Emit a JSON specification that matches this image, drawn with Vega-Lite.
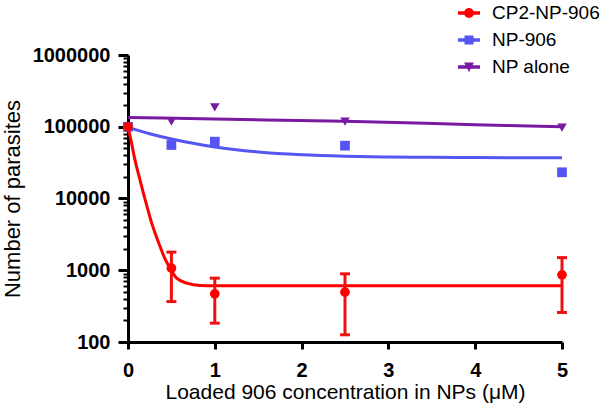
{
  "$schema": "https://vega.github.io/schema/vega-lite/v6.json",
  "width": 434,
  "height": 287,
  "autosize": "none",
  "padding": {"left": 128, "top": 55, "right": 40, "bottom": 72},
  "background": "white",
  "config": {"view": {"stroke": null}, "font": "Liberation Sans"},
  "datasets": {
    "obs": [
      {"series": "NP alone", "x": 0, "y": 100000},
      {"series": "NP alone", "x": 0.5, "y": 117500},
      {"series": "NP alone", "x": 1, "y": 186600},
      {"series": "NP alone", "x": 2.5, "y": 117500},
      {"series": "NP alone", "x": 5, "y": 97000},
      {"series": "NP-906", "x": 0, "y": 100000},
      {"series": "NP-906", "x": 0.5, "y": 55700},
      {"series": "NP-906", "x": 1, "y": 62000},
      {"series": "NP-906", "x": 2.5, "y": 54500},
      {"series": "NP-906", "x": 5, "y": 23200},
      {"series": "CP2-NP-906", "x": 0, "y": 100000},
      {"series": "CP2-NP-906", "x": 0.5, "y": 1070, "lo": 366, "hi": 1790},
      {"series": "CP2-NP-906", "x": 1, "y": 469, "lo": 183, "hi": 776},
      {"series": "CP2-NP-906", "x": 2.5, "y": 495, "lo": 126, "hi": 891},
      {"series": "CP2-NP-906", "x": 5, "y": 863, "lo": 258, "hi": 1500}
    ],
    "fit": [
      {"series": "NP alone", "x": 0, "y": 135000},
      {"series": "NP alone", "x": 1, "y": 128000},
      {"series": "NP alone", "x": 2.5, "y": 119000},
      {"series": "NP alone", "x": 4, "y": 107000},
      {"series": "NP alone", "x": 5, "y": 100000},
      {"series": "NP-906", "x": 0, "y": 98000},
      {"series": "NP-906", "x": 0.25, "y": 80000},
      {"series": "NP-906", "x": 0.5, "y": 67500},
      {"series": "NP-906", "x": 0.75, "y": 58700},
      {"series": "NP-906", "x": 1, "y": 52300},
      {"series": "NP-906", "x": 1.5, "y": 44600},
      {"series": "NP-906", "x": 2, "y": 40800},
      {"series": "NP-906", "x": 2.5, "y": 38900},
      {"series": "NP-906", "x": 3, "y": 37900},
      {"series": "NP-906", "x": 3.5, "y": 37500},
      {"series": "NP-906", "x": 4, "y": 37200},
      {"series": "NP-906", "x": 5, "y": 37000},
      {"series": "CP2-NP-906", "x": 0, "y": 100000},
      {"series": "CP2-NP-906", "x": 0.04, "y": 60000},
      {"series": "CP2-NP-906", "x": 0.08, "y": 34500},
      {"series": "CP2-NP-906", "x": 0.125, "y": 21000},
      {"series": "CP2-NP-906", "x": 0.177, "y": 11900},
      {"series": "CP2-NP-906", "x": 0.225, "y": 7300},
      {"series": "CP2-NP-906", "x": 0.273, "y": 4530},
      {"series": "CP2-NP-906", "x": 0.32, "y": 3100},
      {"series": "CP2-NP-906", "x": 0.37, "y": 2140},
      {"series": "CP2-NP-906", "x": 0.42, "y": 1500},
      {"series": "CP2-NP-906", "x": 0.485, "y": 1070},
      {"series": "CP2-NP-906", "x": 0.56, "y": 776},
      {"series": "CP2-NP-906", "x": 0.68, "y": 661},
      {"series": "CP2-NP-906", "x": 0.83, "y": 612},
      {"series": "CP2-NP-906", "x": 1, "y": 607},
      {"series": "CP2-NP-906", "x": 2, "y": 607},
      {"series": "CP2-NP-906", "x": 3, "y": 607},
      {"series": "CP2-NP-906", "x": 5, "y": 607}
    ]
  },
  "encoding": {
    "x": {
      "field": "x", "type": "quantitative",
      "scale": {"domain": [0, 5], "nice": false, "zero": false},
      "axis": {
        "values": [0, 1, 2, 3, 4, 5], "grid": false,
        "domainColor": "black", "domainWidth": 3,
        "tickColor": "black", "tickWidth": 3, "tickSize": 7,
        "labelFont": "Liberation Sans", "labelFontSize": 20, "labelFontWeight": "bold", "labelColor": "black",
        "labelPadding": 11, "labelFlush": false,
        "title": "Loaded 906 concentration in NPs (μM)",
        "titleFont": "Liberation Sans", "titleFontSize": 21, "titleFontWeight": "normal", "titleColor": "black",
        "titlePadding": 1
      }
    },
    "y": {
      "field": "y", "type": "quantitative",
      "scale": {"type": "log", "domain": [100, 1000000], "nice": false},
      "axis": {
        "values": [100, 200, 300, 400, 500, 600, 700, 800, 900, 1000, 2000, 3000, 4000, 5000, 6000, 7000, 8000, 9000, 10000, 20000, 30000, 40000, 50000, 60000, 70000, 80000, 90000, 100000, 200000, 300000, 400000, 500000, 600000, 700000, 800000, 900000, 1000000],
        "grid": false, "labelOverlap": false, "labelFlush": false,
        "labelExpr": "indexof([100,1000,10000,100000,1000000], datum.value) >= 0 ? format(datum.value, 'd') : ''",
        "domainColor": "black", "domainWidth": 3,
        "tickColor": "black",
        "tickSize": {"condition": {"test": "indexof([100,1000,10000,100000,1000000], datum.value) >= 0", "value": 10}, "value": 5},
        "tickWidth": {"condition": {"test": "indexof([100,1000,10000,100000,1000000], datum.value) >= 0", "value": 3}, "value": 2},
        "labelFont": "Liberation Sans", "labelFontSize": 20, "labelFontWeight": "bold", "labelColor": "black",
        "labelPadding": 8,
        "title": "Number of parasites",
        "titleFont": "Liberation Sans", "titleFontSize": 22, "titleFontWeight": "normal", "titleColor": "black",
        "titlePadding": 8
      }
    },
    "color": {
      "field": "series", "type": "nominal",
      "scale": {"domain": ["CP2-NP-906", "NP-906", "NP alone"], "range": ["#ff0000", "#5555f2", "#7a1aa0"]},
      "legend": {
        "orient": "none", "legendX": 330, "legendY": -53, "title": null, "padding": 0,
        "labelFont": "Liberation Sans", "labelFontSize": 19, "labelColor": "black",
        "labelOffset": 12, "rowPadding": 6, "symbolSize": 484, "symbolStrokeWidth": 0,
        "symbolType": "M-1,-0.15H1V0.15H-1Z M0.45,0A0.45,0.45,0,1,1,-0.45,0A0.45,0.45,0,1,1,0.45,0Z",
        "symbolOpacity": 1,
        "encode": {"symbols": {"update": {
          "shape": {"signal": "datum.value === 'CP2-NP-906' ? 'M-1,-0.15H1V0.15H-1Z M0.45,0A0.45,0.45,0,1,1,-0.45,0A0.45,0.45,0,1,1,0.45,0Z' : datum.value === 'NP-906' ? 'M-1,-0.15H1V0.15H-1Z M-0.41,-0.41H0.41V0.41H-0.41Z' : 'M-1,-0.15H1V0.15H-1Z M-0.45,-0.4L0.45,-0.4L0,0.45Z'"},
          "fill": {"scale": "color", "field": "value"},
          "opacity": {"value": 1},
          "strokeWidth": {"value": 0}
        }}}
      }
    }
  },
  "layer": [
    {
      "data": {"name": "fit"},
      "mark": {"type": "line", "strokeWidth": 3, "interpolate": "monotone", "clip": false},
      "encoding": {}
    },
    {
      "data": {"name": "obs"},
      "transform": [{"filter": "isValid(datum.lo)"}],
      "mark": {"type": "rule", "strokeWidth": 3},
      "encoding": {"y": {"field": "lo", "type": "quantitative"}, "y2": {"field": "hi"}, "color": {"value": "#ee1111"}}
    },
    {
      "data": {"name": "obs"},
      "transform": [{"filter": "isValid(datum.lo)"}],
      "mark": {"type": "tick", "orient": "horizontal", "size": 10, "thickness": 3, "opacity": 1},
      "encoding": {"y": {"field": "lo", "type": "quantitative"}, "color": {"value": "#ee1111"}}
    },
    {
      "data": {"name": "obs"},
      "transform": [{"filter": "isValid(datum.lo)"}],
      "mark": {"type": "tick", "orient": "horizontal", "size": 10, "thickness": 3, "opacity": 1},
      "encoding": {"y": {"field": "hi", "type": "quantitative"}, "color": {"value": "#ee1111"}}
    },
    {
      "data": {"name": "obs"},
      "transform": [{"filter": "datum.series === 'NP alone'"}],
      "mark": {"type": "point", "shape": "triangle-down", "filled": true, "opacity": 1, "size": 90, "clip": false},
      "encoding": {}
    },
    {
      "data": {"name": "obs"},
      "transform": [{"filter": "datum.series === 'NP-906'"}],
      "mark": {"type": "point", "shape": "square", "filled": true, "opacity": 1, "size": 95, "clip": false},
      "encoding": {}
    },
    {
      "data": {"name": "obs"},
      "transform": [{"filter": "datum.series === 'CP2-NP-906'"}],
      "mark": {"type": "point", "shape": "circle", "filled": true, "opacity": 1, "size": 95, "clip": false},
      "encoding": {}
    }
  ]
}
